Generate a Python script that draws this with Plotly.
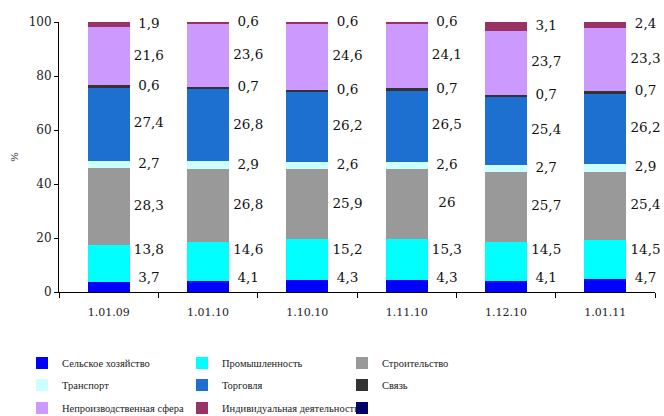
import plotly.graph_objects as go

# Structure by sector, % of total, on each reporting date
dates = ["1.01.09", "1.01.10", "1.10.10", "1.11.10", "1.12.10", "1.01.11"]
agriculture = [3.7, 4.1, 4.3, 4.3, 4.1, 4.7]
industry = [13.8, 14.6, 15.2, 15.3, 14.5, 14.5]
construction = [28.3, 26.8, 25.9, 26, 25.7, 25.4]
transport = [2.7, 2.9, 2.6, 2.6, 2.7, 2.9]
trade = [27.4, 26.8, 26.2, 26.5, 25.4, 26.2]
communication = [0.6, 0.7, 0.6, 0.7, 0.7, 0.7]
non_production = [21.6, 23.6, 24.6, 24.1, 23.7, 23.3]
individual = [1.9, 0.6, 0.6, 0.6, 3.1, 2.4]
unnamed = [None] * 6  # empty ninth legend entry of the source

SERIES = [
    ("Сельское хозяйство", agriculture, "#0000FF", "legend"),
    ("Промышленность", industry, "#00FFFF", "legend"),
    ("Строительство", construction, "#999999", "legend"),
    ("Транспорт", transport, "#CCFFFF", "legend2"),
    ("Торговля", trade, "#1E70D0", "legend2"),
    ("Связь", communication, "#333333", "legend2"),
    ("Непроизводственная сфера", non_production, "#CC99FF", "legend3"),
    ("Индивидуальная деятельность", individual, "#993366", "legend3"),
    (" ", unnamed, "#000066", "legend3"),
]

SERIF = "DejaVu Serif"
LEGEND_FONT = dict(family="Liberation Serif", size=10.5, color="#222")
W, H = 664, 416


def fmt(v):
    return f"{v:g}".replace(".", ",")


def label_heights(values, gap=10.5, floor=5.0):
    """Segment midpoints, spread apart so labels do not collide."""
    mids, top = [], 0.0
    for v in values:
        mids.append(top + v / 2)
        top += v
    pos = mids[:]
    for i in range(len(pos) - 2, -1, -1):
        pos[i] = min(pos[i], pos[i + 1] - gap)
    pos[0] = max(pos[0], floor)
    for i in range(1, len(pos)):
        pos[i] = max(pos[i], pos[i - 1] + gap)
    return pos


fig = go.Figure()
for name, values, color, legend in SERIES:
    fig.add_trace(go.Bar(
        x=dates, y=values, name=name, width=0.42,
        marker=dict(color=color, line=dict(width=0)),
        legend=legend,
    ))

# data labels to the right of each bar
lx, ly, lt = [], [], []
filled = [s for s in SERIES if s[1][0] is not None]
for i in range(len(dates)):
    vals = [s[1][i] for s in filled]
    for v, h in zip(vals, label_heights(vals)):
        lx.append(i + 0.405)
        ly.append(h)
        lt.append(fmt(v))
fig.add_trace(go.Scatter(
    x=lx, y=ly, text=lt, mode="text", xaxis="x2", showlegend=False,
    textfont=dict(family=SERIF, size=13.5, color="#111"),
    cliponaxis=False, hoverinfo="skip",
))


def row_legend(row_px):
    return dict(
        orientation="h", xref="container", yref="container",
        x=22 / W, xanchor="left", y=1 - row_px / H, yanchor="middle",
        entrywidth=115, entrywidthmode="pixels", traceorder="normal",
        font=LEGEND_FONT, bgcolor="rgba(0,0,0,0)",
    )


fig.update_layout(
    barmode="stack",
    width=W, height=H,
    margin=dict(l=58.5, r=8.5, t=22, b=124),
    paper_bgcolor="white", plot_bgcolor="white",
    xaxis=dict(
        type="category", range=[-0.5, 5.5], tickson="boundaries",
        showline=True, linecolor="black", linewidth=1,
        ticks="outside", ticklen=5, tickcolor="black",
        tickfont=dict(family=SERIF, size=11, color="#222"),
        ticklabelstandoff=10,
        showgrid=False,
    ),
    xaxis2=dict(overlaying="x", range=[-0.5, 5.5], visible=False),
    yaxis=dict(
        range=[0, 100], tickvals=[0, 20, 40, 60, 80, 100],
        showline=True, linecolor="black", linewidth=1,
        ticks="outside", ticklen=4, tickcolor="black",
        tickfont=dict(family=SERIF, size=12, color="#222"),
        showgrid=False, zeroline=False,
        title=dict(text="%", font=dict(family=SERIF, size=10, color="#222"),
                   standoff=8),
    ),
    legend=row_legend(363),
    legend2=row_legend(385),
    legend3=row_legend(408),
)

# drop the browser's default body margin so the figure fills the window
fig.write_html(
    "out.html",
    config={"displayModeBar": False},
    post_script="document.body.style.margin = '0';",
)
